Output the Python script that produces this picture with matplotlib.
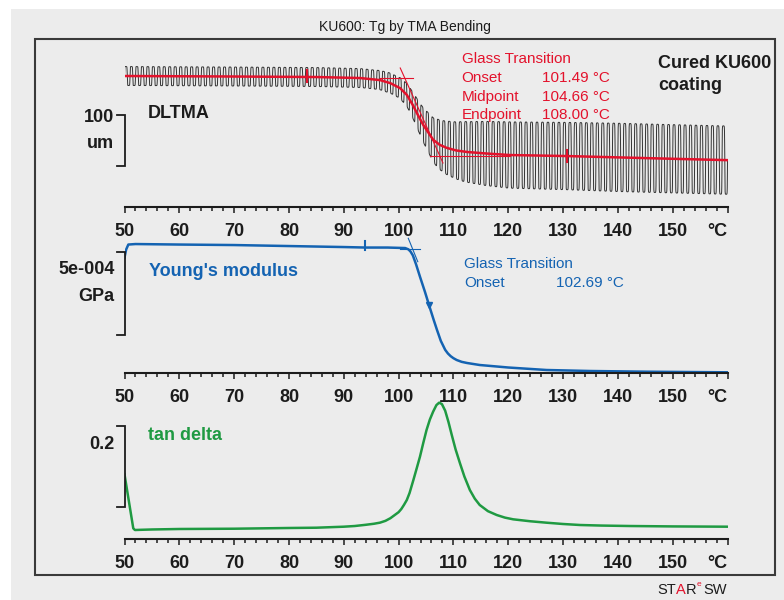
import numpy as np
import matplotlib.pyplot as plt
from matplotlib.patches import Rectangle

plt.rcParams['font.family'] = ['Liberation Sans', 'DejaVu Sans']

W, H = 784, 600

# ---- data ----
# DLTMA: mean displacement (um) and half amplitude of the load oscillation (um)
dl_temp = [50, 70, 85, 93, 96.6, 98.5, 100.3, 101.5, 102.6, 103.5, 104.5, 105.5,
           106.3, 107.5, 108.8, 110.5, 112.5, 116, 120.3, 130.7, 145, 160]
dl_mean = [0, -1, -2, -4, -8, -14, -24, -37, -57, -76, -96, -112,
           -125, -135, -141, -146, -149, -152, -155, -157, -161, -165]
amp_temp = [50, 96, 98, 100, 102, 104, 105.5, 107, 109, 112, 116, 120, 140, 160]
amp_um = [18.6, 18.6, 19.6, 20, 23.5, 31, 39, 47, 53, 59, 63, 65, 67, 67]
cycle_period = 1.0  # degC per load cycle

# Young's modulus (GPa)
ym_temp = [50, 50.3, 50.7, 52, 60, 70, 80, 90, 94, 98, 101.2, 101.8, 102.2, 102.6,
           103.2, 103.9, 104.8, 105.7, 106.4, 107, 107.7, 108.5, 109, 109.5, 110,
           110.6, 111.5, 112.5, 114.8, 120, 127, 135, 145.3, 160]
ym_gpa = [6.93e-4, 7.41e-4, 7.71e-4, 7.74e-4, 7.71e-4, 7.68e-4, 7.62e-4, 7.56e-4,
          7.53e-4, 7.53e-4, 7.50e-4, 7.42e-4, 7.28e-4, 7.06e-4, 6.51e-4, 5.78e-4,
          4.88e-4, 3.92e-4, 3.19e-4, 2.59e-4, 1.93e-4, 1.39e-4, 1.17e-4, 1.01e-4,
          8.9e-5, 7.8e-5, 6.7e-5, 6.0e-5, 4.8e-5, 3.3e-5, 1.8e-5, 1.2e-5, 7.8e-6,
          4.2e-6]

# tan delta
td_temp = [50, 51.6, 51.9, 53, 55, 60, 70, 80, 85, 90, 92, 94, 95.5, 96.6, 97.6,
           98.5, 99.3, 100, 100.5, 101, 101.5, 102, 102.7, 103.3, 103.9, 104.5,
           105.1, 105.7, 106.3, 106.9, 107.4, 107.9, 108.5, 109.1, 109.7, 110.4,
           111.2, 112, 113, 113.9, 114.8, 116.3, 117.9, 119.4, 120.9, 124, 127, 130,
           133.1, 137, 142.2, 150, 160]
td_val = [0.1604, 0.0265, 0.0223, 0.0228, 0.0236, 0.0248, 0.0255, 0.0273, 0.0280,
          0.0305, 0.0322, 0.0352, 0.0378, 0.0405, 0.0450, 0.0515, 0.0595, 0.0665,
          0.0744, 0.0850, 0.0967, 0.1140, 0.1463, 0.1750, 0.2041, 0.2380, 0.2703,
          0.2960, 0.3157, 0.3320, 0.3380, 0.3345, 0.3180, 0.2900, 0.2579, 0.2220,
          0.1877, 0.1550, 0.1215, 0.1000, 0.0843, 0.0690, 0.0595, 0.0530, 0.0488,
          0.0440, 0.0404, 0.0372, 0.0347, 0.0333, 0.0322, 0.0312, 0.0305]

tick_pos = list(range(50, 161, 10))
tick_lab = [str(t) for t in range(50, 151, 10)] + ['°C']

RED = '#e3122c'
BLUE = '#1463b2'
GREEN = '#1f9a42'
DARK = '#1c1c1c'

fig = plt.figure(figsize=(W / 100, H / 100), dpi=100)
fig.patch.set_facecolor('white')


def fx(x):
    return x / W


def fy(y):
    return 1 - y / H


fig.add_artist(Rectangle((fx(11), 0), 1 - fx(11), fy(9), transform=fig.transFigure,
                         facecolor='#ececec', edgecolor='none', zorder=-5))
fig.add_artist(Rectangle((fx(35), fy(575)), fx(775) - fx(35), fy(39) - fy(575),
                         transform=fig.transFigure, facecolor='none',
                         edgecolor='#3a3a3a', lw=1.5, zorder=-4))


def panel(bottom_px, top_px, ylim):
    ax = fig.add_axes([fx(124.5), fy(bottom_px), fx(727.5) - fx(124.5),
                       fy(top_px) - fy(bottom_px)])
    ax.set_facecolor('none')
    for s in ['top', 'left', 'right']:
        ax.spines[s].set_visible(False)
    ax.spines['bottom'].set_color(DARK)
    ax.spines['bottom'].set_linewidth(1.5)
    ax.set_xlim(50, 160)
    ax.set_ylim(*ylim)
    ax.yaxis.set_visible(False)
    ax.set_xticks(tick_pos)
    ax.set_xticklabels(tick_lab, fontsize=13, fontweight='bold', color=DARK)
    ax.set_xticks(np.arange(50, 161, 2), minor=True)
    ax.tick_params(axis='x', which='major', length=4.5, width=1.1, color=DARK, pad=7)
    ax.tick_params(axis='x', which='minor', length=3, width=1.1, color=DARK)
    ax.get_xticklabels()[-1].set_ha('right')
    return ax


def bracket(ax, lo, hi):
    ax.plot([48.7, 50, 50, 48.7], [hi, hi, lo, lo], color=DARK, lw=1.3,
            clip_on=False, solid_joinstyle='miter')


# ---- DLTMA ----
ax1 = panel(207, 45, (-256.9, 60.8))
t = np.linspace(50, 160, 22000)
mean = np.interp(t, dl_temp, dl_mean)
amp = np.interp(t, amp_temp, amp_um)
wave = np.tanh(4 * np.sin(2 * np.pi * (t - 50) / cycle_period)) / np.tanh(4)
ax1.plot(t, mean + amp * wave, color='#333333', lw=0.7)
ax1.plot(dl_temp, dl_mean, color=RED, lw=1.8)
ax1.plot([96.6, 102.6], [-3.3, -3.3], color=RED, lw=0.8)
ax1.plot([100.3, 108.1], [15.7, -170.6], color=RED, lw=0.8)
ax1.plot([105.8, 120.3], [-156.9, -156.9], color=RED, lw=0.8)
ax1.plot([83.3, 83.3], [11, -11], color=RED, lw=1.5)
ax1.plot([130.7, 130.7], [-146, -168], color=RED, lw=1.5)
bracket(ax1, -176.5, -76.5)

# ---- Young's modulus ----
ax2 = panel(373, 235, (0, 8.283e-4))
ax2.plot(ym_temp, ym_gpa, color=BLUE, lw=1.8)
ax2.plot([100.3, 103.9], [7.425e-4, 7.425e-4], color=BLUE, lw=0.8)
ax2.plot([101.77, 103.5], [8.085e-4, 6.68e-4], color=BLUE, lw=0.8)
ax2.plot([93.9, 93.9], [7.38e-4, 7.92e-4], color=BLUE, lw=1.5)
ax2.plot([105.5], [4.1e-4], marker='v', color=BLUE, ms=4)
bracket(ax2, 2.28e-4, 7.28e-4)

# ---- tan delta ----
ax3 = panel(539, 395, (0, 0.357))
ax3.plot(td_temp, td_val, color=GREEN, lw=1.8)
bracket(ax3, 0.08, 0.28)

# ---- texts ----
fig.text(fx(405), fy(27), 'KU600: Tg by TMA Bending', ha='center', va='center',
         fontsize=10, color=DARK)

big = dict(fontsize=13, fontweight='bold', va='center')
fig.text(fx(147.5), fy(113), 'DLTMA', color=DARK, **big)
fig.text(fx(114.5), fy(118), '100', ha='right', color=DARK, **big)
fig.text(fx(114.5), fy(143.5), 'um', ha='right', color=DARK, **big)
fig.text(fx(658), fy(63), 'Cured KU600', color=DARK, **big)
fig.text(fx(658), fy(85.5), 'coating', color=DARK, **big)

fig.text(fx(149), fy(272), "Young's modulus", color=BLUE, **big)
fig.text(fx(114.5), fy(270), '5e-004', ha='right', color=DARK, **big)
fig.text(fx(114.5), fy(296), 'GPa', ha='right', color=DARK, **big)

fig.text(fx(148), fy(435), 'tan delta', color=GREEN, **big)
fig.text(fx(114.5), fy(444.5), '0.2', ha='right', color=DARK, **big)

small = dict(fontsize=11, va='center')
red_rows = [('Glass Transition', None), ('Onset', '101.49 °C'),
            ('Midpoint', '104.66 °C'), ('Endpoint', '108.00 °C')]
for i, (name, val) in enumerate(red_rows):
    y = 59.3 + i * 18.6
    fig.text(fx(461.5), fy(y), name, color=RED, **small)
    if val:
        fig.text(fx(541.5), fy(y), val, color=RED, **small)

fig.text(fx(464), fy(264), 'Glass Transition', color=BLUE, **small)
fig.text(fx(464), fy(283.3), 'Onset', color=BLUE, **small)
fig.text(fx(556.5), fy(283.3), '102.69 °C', color=BLUE, **small)

# STARe SW logo text
x0 = 657
for txt, col in [('ST', DARK), ('A', RED), ('R', DARK)]:
    tt = fig.text(fx(x0), fy(589.5), txt, color=col, fontsize=10.5, va='center')
    fig.canvas.draw()
    x0 += tt.get_window_extent().width
fig.text(fx(x0 + 0.5), fy(585), 'e', color=RED, fontsize=6, va='center')
fig.text(fx(x0 + 7), fy(589.5), 'SW', color=DARK, fontsize=10.5, va='center')

fig.savefig('out.png', dpi=100, facecolor=fig.get_facecolor())
